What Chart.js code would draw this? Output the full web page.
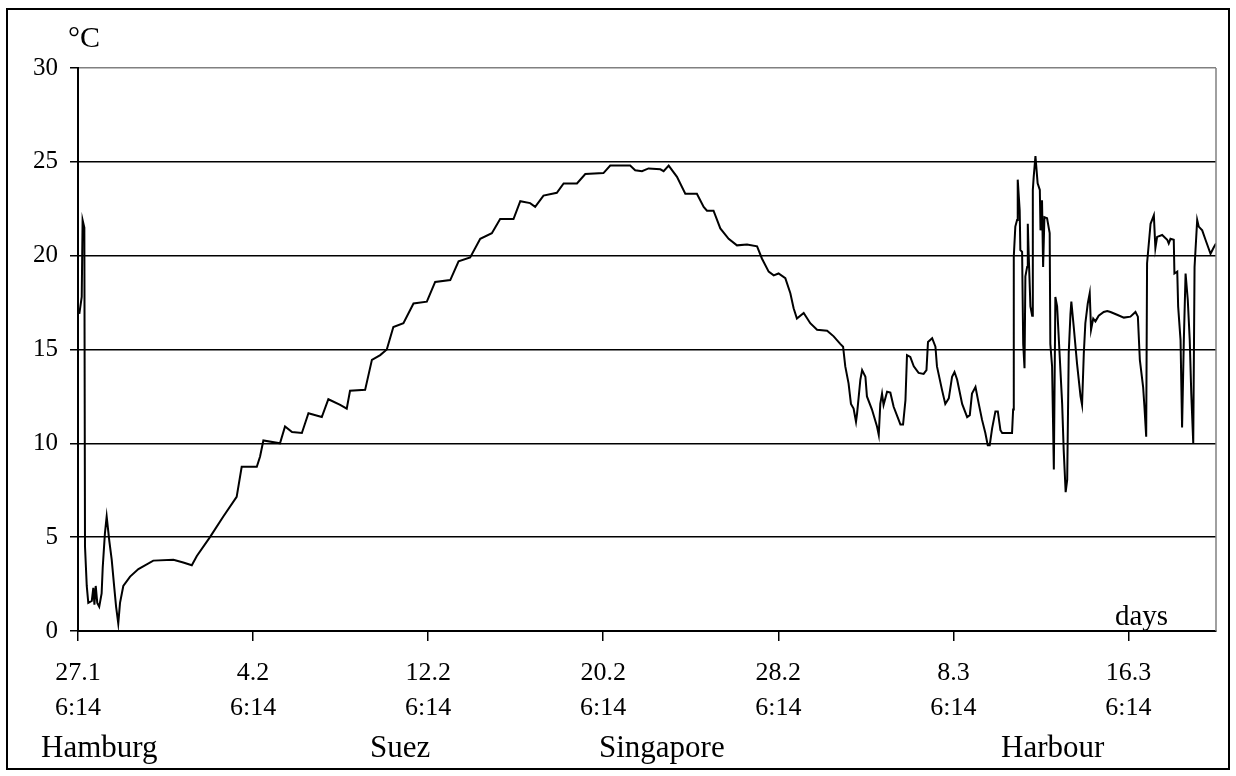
<!DOCTYPE html>
<html>
<head>
<meta charset="utf-8">
<script src="https://cdn.jsdelivr.net/npm/chart.js@4.4.1/dist/chart.umd.min.js"></script>
<style>
  html, body { margin: 0; padding: 0; background: #fff; }
  #wrap { position: relative; width: 1236px; height: 776px; overflow: hidden; }
  #frame { position: absolute; left: 6px; top: 8px; width: 1220px; height: 758px; border: 2px solid #000; }
  canvas { position: absolute; left: 0; top: 0; }
  .lbl { position: absolute; font-family: "Liberation Serif", "Times New Roman", serif; color: #000; line-height: 1; white-space: nowrap; }
</style>
</head>
<body>
<div id="wrap">
  <div id="frame"></div>
  <canvas id="temp-chart" width="1236" height="776"></canvas>
  <div class="lbl" style="left:68px; top:22px; font-size:30px;">°C</div>
  <div class="lbl" style="left:1115px; top:601px; font-size:29px;">days</div>
  <div id="places"></div>
</div>
<script>
// days since 27.1 6:14
const days = [0.06,0.17,0.21,0.29,0.32,0.40,0.47,0.63,0.70,0.75,0.81,0.88,0.97,1.08,1.13,1.23,1.31,1.43,1.54,1.65,
  1.74,1.84,1.92,2.07,2.38,2.76,3.44,4.36,4.81,5.20,5.43,6.03,6.64,7.25,7.48,8.17,8.32,8.47,9.23,9.46,
  9.78,10.23,10.53,11.14,11.44,11.98,12.28,12.43,13.12,13.43,13.81,14.11,14.41,14.87,15.33,15.94,16.32,17.01,17.39,17.92,
  18.38,18.91,19.29,19.90,20.21,20.66,20.89,21.27,21.88,22.19,22.80,23.18,24.01,24.32,25.23,25.46,25.77,26.07,26.61,26.76,
  26.99,27.37,27.75,28.28,28.59,28.74,29.04,29.35,29.73,30.11,30.57,31.03,31.25,31.56,31.79,32.01,32.32,32.55,32.70,32.85,
  33.16,33.46,33.77,34.23,34.53,34.83,34.96,35.06,35.21,35.32,35.44,35.55,35.60,35.75,35.83,35.98,36.05,36.28,36.51,36.59,
  36.66,36.74,36.81,36.97,37.12,37.27,37.50,37.58,37.70,37.81,37.88,38.03,38.19,38.41,38.64,38.77,38.84,39.03,39.18,39.25,
  39.48,39.63,39.79,39.94,40.05,40.17,40.40,40.63,40.75,40.85,41.01,41.16,41.31,41.46,41.57,41.66,41.77,41.92,42.03,42.15,
  42.23,42.68,42.73,42.76,42.83,42.91,42.94,43.03,43.06,43.14,43.19,43.25,43.29,43.37,43.40,43.44,43.52,43.60,43.63,43.67,
  43.75,43.85,43.95,43.98,44.05,44.10,44.16,44.28,44.40,44.43,44.51,44.59,44.66,44.74,44.86,44.97,45.04,45.13,45.20,45.27,
  45.35,45.39,45.50,45.65,45.81,45.88,45.96,46.03,46.14,46.23,46.29,46.39,46.49,46.64,46.87,47.03,47.18,47.48,47.79,48.09,
  48.32,48.43,48.52,48.67,48.73,48.81,48.85,49.01,49.16,49.23,49.31,49.54,49.77,49.84,49.92,50.07,50.10,50.23,50.27,50.38,
  50.45,50.53,50.61,50.71,50.80,50.87,50.96,51.02,51.14,51.21,51.37,51.52,51.75,51.90,52.00];

// °C
const temps = [16.9,17.8,21.9,21.5,4.5,2.4,1.5,1.6,2.3,1.4,2.4,1.5,1.3,2.0,3.4,5.2,6.1,4.8,3.8,2.4,
  1.3,0.4,1.5,2.4,2.9,3.3,3.75,3.8,3.65,3.5,4.0,5.0,6.1,7.15,8.75,8.75,9.3,10.15,10.0,10.9,
  10.6,10.55,11.6,11.4,12.35,12.05,11.85,12.8,12.85,14.45,14.7,15.0,16.2,16.4,17.45,17.55,18.6,18.7,19.7,19.9,
  20.9,21.2,21.95,21.95,22.9,22.8,22.6,23.2,23.35,23.85,23.85,24.35,24.4,24.8,24.8,24.55,24.5,24.65,24.6,24.5,
  24.8,24.2,23.3,23.3,22.6,22.4,22.4,21.45,20.9,20.55,20.6,20.5,19.85,19.15,18.95,19.05,18.8,18.0,17.2,16.65,
  16.95,16.4,16.05,16.0,15.7,15.3,15.15,14.1,13.2,12.1,11.85,11.15,11.6,13.4,13.9,13.55,12.5,11.8,10.9,10.45,
  12.1,12.65,12.05,12.75,12.7,11.95,11.25,11.0,11.0,12.3,14.7,14.6,14.1,13.75,13.7,13.9,15.4,15.6,15.15,14.1,
  12.85,12.1,12.4,13.55,13.8,13.4,12.1,11.4,11.5,12.65,13.0,12.1,11.25,10.55,9.9,9.9,10.8,11.7,11.7,10.7,
  10.55,10.55,11.8,19.95,21.55,21.9,24.05,22.4,20.3,20.2,15.3,14.0,18.9,19.4,21.7,20.1,17.3,16.8,23.5,24.2,
  25.3,23.85,23.5,21.35,22.95,19.4,22.05,22.0,21.2,15.3,14.1,8.6,17.8,17.3,14.6,12.1,9.65,7.4,8.05,14.8,
  16.9,17.55,16.2,14.25,12.5,12.05,14.8,16.4,17.45,18.0,16.05,16.65,16.5,16.8,17.0,17.05,17.0,16.85,16.7,16.75,
  17.0,16.75,14.45,13.0,11.95,10.35,19.6,21.7,22.15,20.4,21.0,21.1,20.85,20.65,20.9,20.85,19.05,19.15,17.3,15.5,
  10.85,15.5,19.05,17.65,15.5,12.65,10.0,19.4,21.9,21.55,21.35,20.85,20.1,20.45,20.65];

const tickDates = ["27.1", "4.2", "12.2", "20.2", "28.2", "8.3", "16.3"];
const tickTime = "6:14";
const placeNames = ["Hamburg", "Suez", "Singapore", "Harbour"];

// label placement (page pixels)
const placeLeft = [41, 370, 599, 1001];
const places = document.getElementById("places");
placeNames.forEach(function (name, i) {
  const d = document.createElement("div");
  d.className = "lbl";
  d.style.left = placeLeft[i] + "px";
  d.style.top = "731px";
  d.style.fontSize = "31px";
  d.textContent = name;
  places.appendChild(d);
});

const serif = "'Liberation Serif', 'Times New Roman', serif";

// grey right edge of the plot area
const plotEdge = {
  id: "plotEdge",
  afterDraw: function (chart) {
    const a = chart.chartArea, c = chart.ctx;
    c.save();
    c.strokeStyle = "#808080";
    c.lineWidth = 1.5;
    c.beginPath();
    c.moveTo(a.right, a.top);
    c.lineTo(a.right, a.bottom);
    c.stroke();
    c.restore();
  }
};

new Chart(document.getElementById("temp-chart"), {
  type: "line",
  data: {
    datasets: [{
      data: days.map(function (d, i) { return { x: d, y: temps[i] }; }),
      borderColor: "#000",
      borderWidth: 2,
      pointRadius: 0,
      tension: 0,
      fill: false
    }]
  },
  options: {
    responsive: false,
    animation: false,
    layout: { padding: { left: 8, top: 68, right: 20, bottom: 0 } },
    plugins: { legend: { display: false }, tooltip: { enabled: false } },
    scales: {
      x: {
        type: "linear",
        min: 0,
        max: 52,
        ticks: {
          stepSize: 8,
          includeBounds: false,
          autoSkip: false,
          maxRotation: 0,
          color: "#000",
          padding: 15,
          font: { family: serif, size: 26, lineHeight: 1.33 },
          callback: function (v) {
            const i = Math.round(v / 8);
            return i < tickDates.length ? [tickDates[i], tickTime] : "";
          }
        },
        grid: { drawOnChartArea: false, tickLength: 10, color: "#000", lineWidth: 1.5 },
        border: { color: "#000", width: 2 },
        afterFit: function (s) { s.height = 145; }
      },
      y: {
        min: 0,
        max: 30,
        ticks: {
          stepSize: 5,
          color: "#000",
          padding: 12,
          font: { family: serif, size: 25 }
        },
        grid: {
          color: function (c) { return c.tick && c.tick.value === 30 ? "#808080" : "#000"; },
          tickColor: "#000",
          lineWidth: 1.5,
          tickLength: 8
        },
        border: { color: "#000", width: 2 },
        afterFit: function (s) { s.width = 70; }
      }
    }
  },
  plugins: [plotEdge]
});
</script>
</body>
</html>
